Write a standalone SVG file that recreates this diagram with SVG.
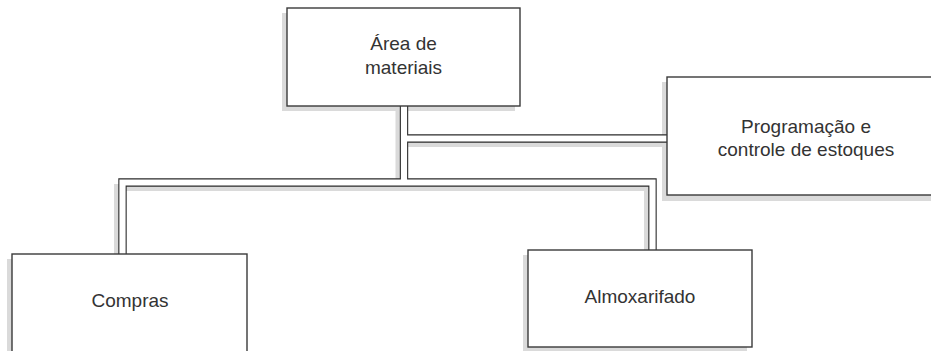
<svg xmlns="http://www.w3.org/2000/svg" width="931" height="351" viewBox="0 0 931 351">
<style>
.shadow{fill:#dadada;stroke:none}
.pshadow{fill:none;stroke:#dadada;stroke-width:7;stroke-linejoin:miter}
.pedge{fill:none;stroke:#2b2b2b;stroke-width:8.4;stroke-linejoin:miter}
.pfill{fill:none;stroke:#ffffff;stroke-width:6.2;stroke-linejoin:miter}
.box{fill:#ffffff;stroke:#3a3a3a;stroke-width:1.4}
.lbl{font-family:"Liberation Sans",Arial,sans-serif;font-size:19px;fill:#333333;text-anchor:middle}
</style>
<rect width="931" height="351" fill="#ffffff"/>
<g id="shadows">
<rect class="shadow" x="282" y="13" width="233" height="98"/>
<rect class="shadow" x="662" y="82" width="275" height="119"/>
<rect class="shadow" x="7" y="259" width="235" height="100"/>
<rect class="shadow" x="523" y="255" width="224" height="98"/>
</g>
<g id="connectors">
<path class="pshadow" d="M399,111 V187.5 M117.5,259 V187.5 H647.5 V255 M399,143.5 H662"/>
<path class="pedge" d="M404,106 V182.5 M122.5,254 V182.5 H652.5 V250 M404,138.5 H667"/>
<path class="pfill" d="M404,106 V182.5 M122.5,254 V182.5 H652.5 V250 M404,138.5 H667"/>
</g>
<g id="area-materiais">
<rect class="box" x="287" y="8" width="233" height="98"/>
<text class="lbl" x="403.5" y="50">Área de</text>
<text class="lbl" x="403.5" y="74">materiais</text>
</g>
<g id="programacao">
<rect class="box" x="667" y="77" width="275" height="118"/>
<text class="lbl" x="806" y="133">Programação e</text>
<text class="lbl" x="806" y="156">controle de estoques</text>
</g>
<g id="compras">
<rect class="box" x="12" y="254" width="235" height="110"/>
<text class="lbl" x="130" y="307">Compras</text>
</g>
<g id="almoxarifado">
<rect class="box" x="528" y="250" width="224" height="97"/>
<text class="lbl" x="640" y="303">Almoxarifado</text>
</g>
</svg>
